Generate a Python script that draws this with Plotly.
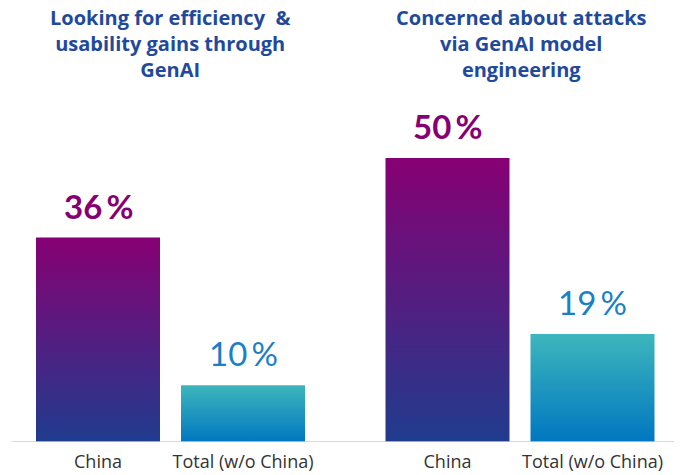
import plotly.graph_objects as go

# ---- data ----
groups = ["Looking for efficiency  &<br>usability gains through<br>GenAI",
          "Concerned about attacks<br>via GenAI model<br>engineering"]
categories = ["China", "Total (w/o China)"]
china_values = [36, 50]
total_values = [10, 19]

# ---- layout helpers (pixel geometry of the reference) ----
W, H = 682, 475
BAR_PX = 124.0
FIRST_CENTER_PX = 98.0
def px(x):  # convert pixel x to data units
    return (x - FIRST_CENTER_PX) / BAR_PX

step_in_group = 145.0 / BAR_PX
group_step = 349.5 / BAR_PX
half = 0.5
title_centers_px = [170, 521]

china_grad = dict(type="vertical", colorscale=[[0, "#1f3c8e"], [1, "#870073"]])
total_grad = dict(type="vertical", colorscale=[[0, "#0077c0"], [1, "#3db6bd"]])

fig = go.Figure()
tickvals, ticktext = [], []
annotations = []
for g, (cv, tv) in enumerate(zip(china_values, total_values)):
    for b, (val, grad, lblcolor, bold) in enumerate([
            (cv, china_grad, "#870073", True),
            (tv, total_grad, "#1a80c6", False)]):
        c = g * group_step + b * step_in_group
        fig.add_trace(go.Scatter(
            x=[c - half, c + half, c + half, c - half, c - half],
            y=[0, 0, val, val, 0],
            mode="lines", line=dict(width=0), fill="toself",
            fillgradient=grad, hoverinfo="skip", showlegend=False))
        tickvals.append(c)
        ticktext.append(categories[b])
        txt = f"{val}\u2009%"
        if bold:
            txt = f"<b>{txt}</b>"
        annotations.append(dict(x=c, y=val, xref="x", yref="y", text=txt,
                                showarrow=False, yanchor="bottom", yshift=10,
                                font=dict(family="Lato", size=33, color=lblcolor)))
    annotations.append(dict(x=px(title_centers_px[g]), y=1.0, xref="x", yref="paper",
                            text=f"<b>{groups[g]}</b>",
                            showarrow=False, yanchor="top", yshift=-2,
                            font=dict(family="Open Sans", size=20, color="#1f4a9c")))

fig.add_shape(type="line", xref="x", yref="y", x0=px(12), x1=px(674), y0=0, y1=0,
              line=dict(color="#cccccc", width=1.5))

fig.update_layout(
    width=W, height=H,
    margin=dict(l=0, r=0, t=0, b=33),
    paper_bgcolor="white", plot_bgcolor="white",
    annotations=annotations,
    xaxis=dict(range=[px(0), px(W)], tickvals=tickvals, ticktext=ticktext,
               showgrid=False, zeroline=False, showline=False,
               ticks="outside", ticklen=3, tickcolor="rgba(0,0,0,0)",
               tickfont=dict(family="Open Sans", size=18, color="#333333")),
    yaxis=dict(range=[0, 442 / 5.68], visible=False, fixedrange=True),
)

fig.write_html("out.html", config={"displayModeBar": False},
               post_script="document.body.style.margin='0';")
